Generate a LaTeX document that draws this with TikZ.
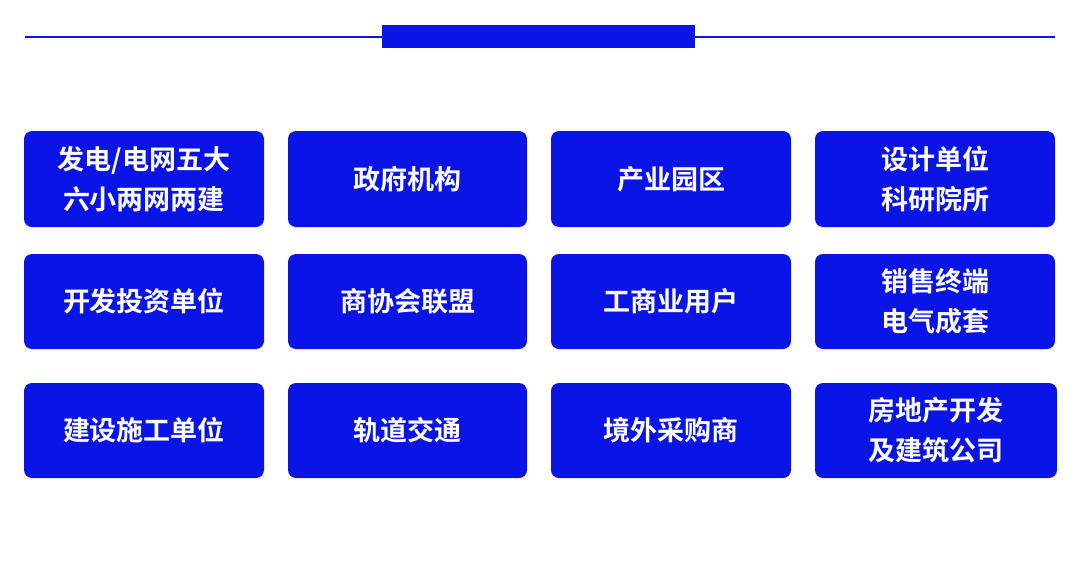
\documentclass[tikz,border=0pt]{standalone}
\usepackage{fontspec}
\newfontfamily\cjk{Noto Sans CJK SC}[BoldFont={* Bold}]
\definecolor{cb}{HTML}{0A14E6}
\begin{document}
\begin{tikzpicture}[x=1pt,y=-1pt,
 cell/.style={fill=cb,rounded corners=8pt,draw=none},
 lbl/.style={text=white,font=\cjk\bfseries\fontsize{27}{40}\selectfont,align=center}]
\useasboundingbox[fill=white] (0,0) rectangle (1080,587);
\draw[cb,line width=2pt] (25,37) coordinate(l1) -- (1055,37) coordinate(l2);
\fill[cb] (382,25) rectangle (695,48);
\def\boxit#1#2#3#4#5{\fill[cell] (#1,#2) rectangle (#3,#4); \node[lbl] (n#1#2) at ({(#1+#3)/2},{(#2+#4)/2}) {#5};}
\boxit{24}{131}{264}{227}{发电/电网五大\\六小两网两建}
\boxit{288}{131}{527}{227}{政府机构}
\boxit{551}{131}{791}{227}{产业园区}
\boxit{815}{131}{1055}{227}{设计单位\\科研院所}
\boxit{24}{254}{264}{349}{开发投资单位}
\boxit{288}{254}{527}{349}{商协会联盟}
\boxit{551}{254}{791}{349}{工商业用户}
\boxit{815}{254}{1055}{349}{销售终端\\电气成套}
\boxit{24}{383}{264}{478}{建设施工单位}
\boxit{288}{383}{527}{478}{轨道交通}
\boxit{551}{383}{791}{478}{境外采购商}
\boxit{815}{383}{1057}{478}{房地产开发\\及建筑公司}
\end{tikzpicture}
\end{document}
